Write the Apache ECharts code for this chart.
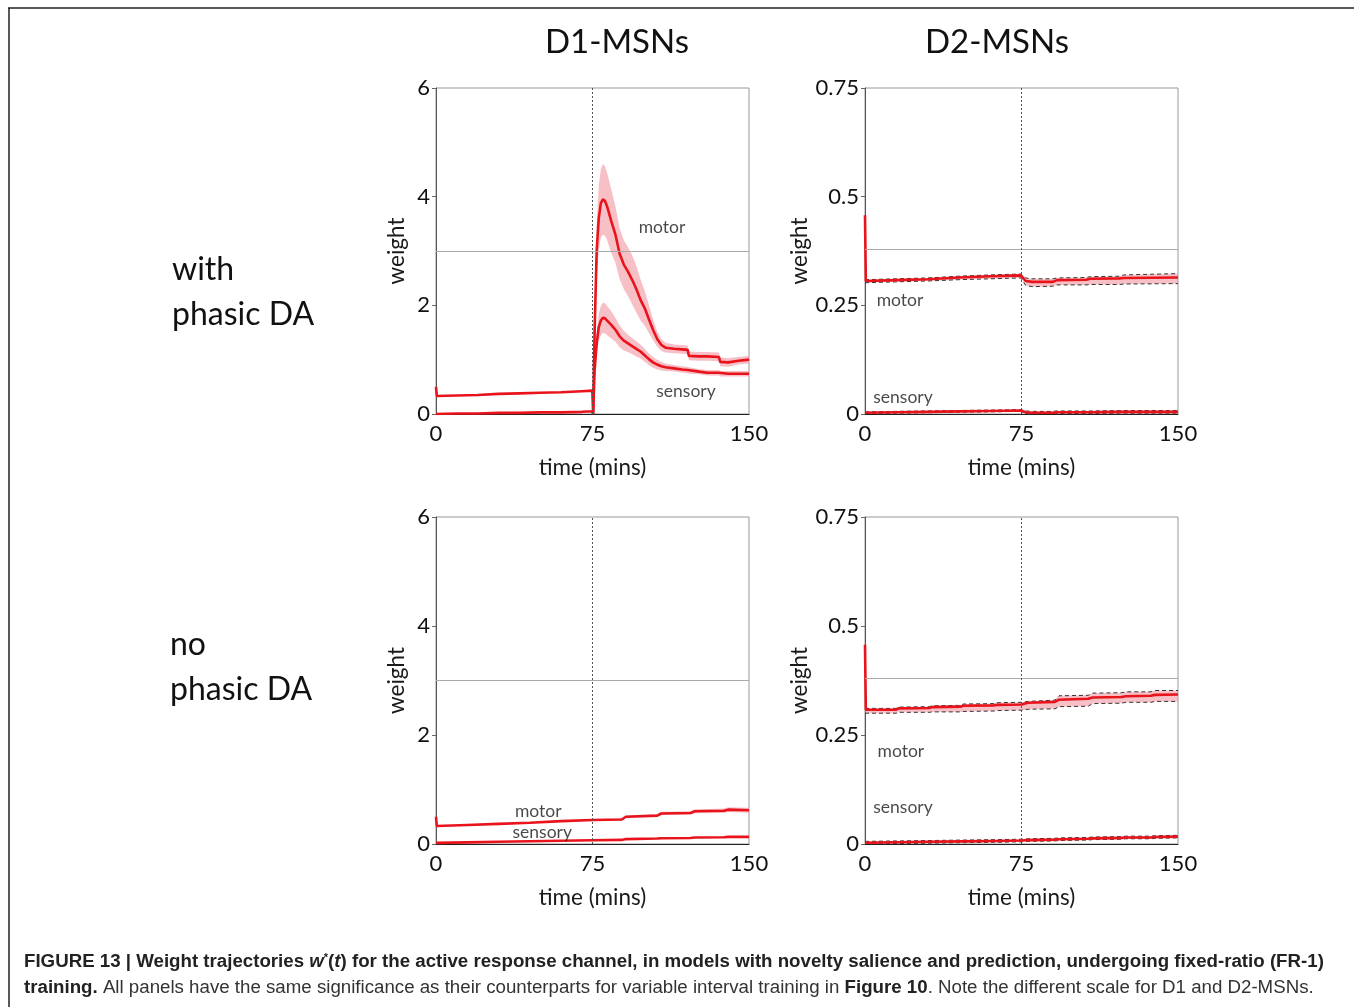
<!DOCTYPE html>
<html>
<head>
<meta charset="utf-8">
<script src="https://cdn.jsdelivr.net/npm/echarts@6/dist/echarts.min.js"></script>
<style>
html,body{margin:0;padding:0;background:#fff;}
#chart{width:1354px;height:1007px;}
</style>
</head>
<body>
<div id="chart"></div>
<script>
// ---------- DATA ----------
var columnTitles = ['D1-MSNs', 'D2-MSNs'];
var rowTitles = [['with', 'phasic DA'], ['no', 'phasic DA']];
var xTicks = [0, 75, 150];
var yTicksD1 = [0, 2, 4, 6];
var yTicksD2 = [0, 0.25, 0.5, 0.75];

// Top-left: D1, with phasic DA
var tTL = [0, 0.4, 10, 20, 30, 40, 50, 60, 70, 74.9, 75.3, 76, 77, 78, 79, 80, 81, 82, 84, 86, 88, 90, 92, 94, 96, 98, 100, 102, 104, 106, 108, 110, 114, 118, 120.6, 121.2, 126, 130, 135.6, 136.2, 140, 145, 150];
var motorTL = [0.50, 0.33, 0.34, 0.35, 0.37, 0.38, 0.39, 0.40, 0.42, 0.43, 0.02, 1.5, 3.0, 3.6, 3.88, 3.95, 3.92, 3.82, 3.55, 3.3, 2.95, 2.75, 2.62, 2.47, 2.3, 2.1, 1.95, 1.75, 1.55, 1.38, 1.27, 1.22, 1.20, 1.19, 1.18, 1.07, 1.06, 1.06, 1.05, 0.96, 0.95, 0.98, 1.0];
var motorTLsd = [0.01, 0.01, 0.01, 0.01, 0.01, 0.01, 0.01, 0.01, 0.01, 0.01, 0, 0.2, 0.5, 0.6, 0.63, 0.65, 0.64, 0.62, 0.58, 0.52, 0.47, 0.45, 0.45, 0.45, 0.43, 0.38, 0.32, 0.26, 0.19, 0.14, 0.11, 0.09, 0.08, 0.08, 0.08, 0.08, 0.08, 0.08, 0.08, 0.08, 0.08, 0.07, 0.07];
var sensTL = [0.0, 0.0, 0.01, 0.01, 0.02, 0.02, 0.03, 0.03, 0.04, 0.05, 0.0, 0.8, 1.3, 1.6, 1.72, 1.77, 1.76, 1.72, 1.64, 1.55, 1.43, 1.35, 1.30, 1.25, 1.20, 1.15, 1.08, 1.01, 0.95, 0.91, 0.88, 0.86, 0.84, 0.82, 0.81, 0.80, 0.78, 0.76, 0.76, 0.74, 0.74, 0.74, 0.74];
var sensTLsd = [0.01, 0.01, 0.01, 0.01, 0.01, 0.01, 0.01, 0.01, 0.01, 0.01, 0, 0.1, 0.2, 0.25, 0.27, 0.28, 0.28, 0.27, 0.25, 0.22, 0.2, 0.18, 0.16, 0.15, 0.14, 0.13, 0.12, 0.11, 0.1, 0.09, 0.08, 0.07, 0.06, 0.06, 0.06, 0.06, 0.05, 0.05, 0.05, 0.05, 0.05, 0.05, 0.05];

// Top-right: D2, with phasic DA
var tTR = [0, 0.4, 15, 30, 45, 60, 74.6, 75.4, 77, 80, 90, 92, 106, 108, 122, 124, 150];
var motorTR = [0.457, 0.306, 0.308, 0.310, 0.314, 0.317, 0.319, 0.318, 0.306, 0.304, 0.304, 0.308, 0.309, 0.311, 0.312, 0.313, 0.314];
var motorTRhi = [0.309, 0.309, 0.311, 0.313, 0.317, 0.320, 0.322, 0.321, 0.313, 0.311, 0.311, 0.313, 0.314, 0.316, 0.317, 0.320, 0.323];
var motorTRlo = [0.302, 0.302, 0.304, 0.306, 0.309, 0.311, 0.313, 0.312, 0.296, 0.293, 0.294, 0.297, 0.297, 0.298, 0.298, 0.299, 0.300];
var sensTR = [0.003, 0.003, 0.004, 0.005, 0.006, 0.007, 0.008, 0.008, 0.004, 0.003, 0.003, 0.004, 0.004, 0.004, 0.005, 0.005, 0.005];
var sensTRsd = [0.002, 0.002, 0.002, 0.002, 0.002, 0.002, 0.002, 0.002, 0.003, 0.003, 0.003, 0.003, 0.003, 0.003, 0.003, 0.003, 0.003];

// Bottom-left: D1, no phasic DA
var tBL = [0, 0.4, 15, 30, 45, 60, 75, 89, 91, 106, 108, 122, 124, 138, 140, 150];
var motorBL = [0.50, 0.33, 0.35, 0.37, 0.39, 0.42, 0.44, 0.45, 0.50, 0.52, 0.56, 0.57, 0.60, 0.61, 0.63, 0.62];
var motorBLsd = [0.01, 0.01, 0.01, 0.01, 0.01, 0.015, 0.015, 0.02, 0.02, 0.025, 0.03, 0.03, 0.035, 0.04, 0.045, 0.045];
var sensBL = [0.02, 0.02, 0.03, 0.04, 0.05, 0.06, 0.07, 0.075, 0.09, 0.10, 0.105, 0.11, 0.12, 0.125, 0.13, 0.13];
var sensBLsd = [0.01, 0.01, 0.01, 0.01, 0.01, 0.01, 0.01, 0.01, 0.01, 0.01, 0.01, 0.01, 0.01, 0.01, 0.01, 0.01];

// Bottom-right: D2, no phasic DA
var tBR = [0, 0.4, 15, 16, 31, 32, 46, 47, 62, 63, 75, 78, 91, 93, 107, 109, 123, 125, 137, 139, 150];
var motorBR = [0.457, 0.308, 0.308, 0.311, 0.312, 0.314, 0.315, 0.317, 0.318, 0.319, 0.320, 0.324, 0.326, 0.331, 0.333, 0.336, 0.337, 0.339, 0.340, 0.342, 0.343];
var motorBRhi = [0.311, 0.311, 0.311, 0.314, 0.315, 0.317, 0.318, 0.321, 0.322, 0.324, 0.325, 0.327, 0.330, 0.340, 0.341, 0.346, 0.347, 0.349, 0.349, 0.352, 0.352];
var motorBRlo = [0.300, 0.300, 0.300, 0.302, 0.302, 0.303, 0.303, 0.304, 0.305, 0.306, 0.307, 0.309, 0.310, 0.315, 0.316, 0.322, 0.323, 0.325, 0.325, 0.327, 0.327];
var sensBR = [0.003, 0.003, 0.004, 0.004, 0.005, 0.005, 0.006, 0.006, 0.007, 0.007, 0.008, 0.009, 0.010, 0.011, 0.012, 0.013, 0.014, 0.015, 0.015, 0.016, 0.017];
var sensBRsd = [0.003, 0.003, 0.003, 0.003, 0.003, 0.003, 0.003, 0.003, 0.003, 0.003, 0.003, 0.003, 0.003, 0.003, 0.003, 0.003, 0.003, 0.003, 0.003, 0.003, 0.003];

// ---------- BUILD ----------
var FONT = 'Lato, "Open Sans", sans-serif';
var CAPFONT = '"Liberation Sans", Arial, sans-serif';
var RED = '#e8131b';
var BAND = 'rgba(242,150,160,0.6)';

function add(a, b, s) { return a.map(function (v, i) { return Math.max(0, v + s * b[i]); }); }
function pairs(t, v) { return t.map(function (x, i) { return [x, v[i]]; }); }

var series = [];
function band(gi, t, lo, hi, dashed) {
  var rows = t.map(function (x, i) { return [x, lo[i], hi[i]]; });
  series.push({
    type: 'custom', xAxisIndex: gi, yAxisIndex: gi, silent: true, z: 2, clip: true,
    encode: { x: 0, y: [1, 2] },
    data: rows,
    renderItem: function (params, api) {
      if (params.dataIndex !== 0) return null;
      var pts = [];
      for (var i = 0; i < rows.length; i++) pts.push(api.coord([rows[i][0], rows[i][2]]));
      for (var j = rows.length - 1; j >= 0; j--) pts.push(api.coord([rows[j][0], rows[j][1]]));
      return { type: 'polygon', shape: { points: pts }, style: { fill: BAND, stroke: null } };
    }
  });
  if (dashed) {
    [lo, hi].forEach(function (arr) {
      series.push({
        type: 'line', xAxisIndex: gi, yAxisIndex: gi, symbol: 'none', silent: true,
        lineStyle: { color: '#333', width: 1, type: [4, 3] }, data: pairs(t, arr), z: 3
      });
    });
  }
}
function mean(gi, t, v) {
  series.push({
    type: 'line', xAxisIndex: gi, yAxisIndex: gi, symbol: 'none', silent: true,
    lineStyle: { color: RED, width: 2.6 }, data: pairs(t, v), z: 4
  });
}
function guides(gi, yMid) {
  series.push({
    type: 'line', xAxisIndex: gi, yAxisIndex: gi, symbol: 'none', data: [], silent: true,
    markLine: {
      silent: true, symbol: 'none', label: { show: false },
      data: [
        { yAxis: yMid, lineStyle: { color: '#aaa', width: 1, type: 'solid' } },
        { xAxis: 75, lineStyle: { color: '#555', width: 1, type: [2, 2] } }
      ]
    }, z: 1
  });
}
function notes(gi, items) {
  series.push({
    type: 'scatter', xAxisIndex: gi, yAxisIndex: gi, symbolSize: 1, silent: true,
    itemStyle: { color: 'rgba(0,0,0,0)' },
    label: { show: true, position: 'inside', formatter: function (p) { return p.data[2]; },
      fontFamily: FONT, fontSize: 17.5, color: '#1a1a1a' },
    data: items, z: 6
  });
}

// panel 0 TL
guides(0, 3);
band(0, tTL, add(motorTL, motorTLsd, -1), add(motorTL, motorTLsd, 1), false);
band(0, tTL, add(sensTL, sensTLsd, -1), add(sensTL, sensTLsd, 1), false);
mean(0, tTL, sensTL); mean(0, tTL, motorTL);
notes(0, [[108.3, 3.43, 'motor'], [119.8, 0.42, 'sensory']]);
// panel 1 TR
guides(1, 0.375);
band(1, tTR, motorTRlo, motorTRhi, true);
band(1, tTR, add(sensTR, sensTRsd, -1), add(sensTR, sensTRsd, 1), true);
mean(1, tTR, sensTR); mean(1, tTR, motorTR);
notes(1, [[16.8, 0.262, 'motor'], [18.2, 0.039, 'sensory']]);
// panel 2 BL
guides(2, 3);
band(2, tBL, add(motorBL, motorBLsd, -1), add(motorBL, motorBLsd, 1), false);
band(2, tBL, add(sensBL, sensBLsd, -1), add(sensBL, sensBLsd, 1), false);
mean(2, tBL, sensBL); mean(2, tBL, motorBL);
notes(2, [[49, 0.59, 'motor'], [50.9, 0.22, 'sensory']]);
// panel 3 BR
guides(3, 0.375);
band(3, tBR, motorBRlo, motorBRhi, true);
band(3, tBR, add(sensBR, sensBRsd, -1), add(sensBR, sensBRsd, 1), true);
mean(3, tBR, sensBR); mean(3, tBR, motorBR);
notes(3, [[17.2, 0.2135, 'motor'], [18.2, 0.085, 'sensory']]);

var grids = [
  { left: 436, top: 88, width: 313, height: 326 },
  { left: 865, top: 88, width: 313, height: 326 },
  { left: 436, top: 517, width: 313, height: 327 },
  { left: 865, top: 517, width: 313, height: 327 }
].map(function (g) { g.show = true; g.borderColor = '#999'; g.borderWidth = 1; g.backgroundColor = '#fff'; return g; });

var xAxes = grids.map(function (g, i) {
  return {
    type: 'value', gridIndex: i, min: xTicks[0], max: xTicks[xTicks.length - 1], interval: xTicks[1] - xTicks[0],
    name: 'time (mins)', nameLocation: 'middle', nameGap: 42,
    nameTextStyle: { fontFamily: FONT, fontSize: 22.5, color: '#1a1a1a' },
    axisLine: { show: true, onZero: false, lineStyle: { color: '#222', width: 1 } },
    axisTick: { show: false }, splitLine: { show: false },
    axisLabel: { fontFamily: FONT, fontSize: 22, color: '#111', margin: 9 }
  };
});
var yAxes = grids.map(function (g, i) {
  var d1 = (i % 2 === 0);
  var ticks = d1 ? yTicksD1 : yTicksD2;
  return {
    type: 'value', gridIndex: i, min: ticks[0], max: ticks[ticks.length - 1], interval: ticks[1] - ticks[0],
    name: 'weight', nameLocation: 'middle', nameRotate: 90, nameGap: d1 ? 28 : 54,
    nameTextStyle: { fontFamily: FONT, fontSize: 22.5, color: '#1a1a1a' },
    axisLine: { show: true, lineStyle: { color: '#555', width: 1 } },
    axisTick: { show: true, length: 4, lineStyle: { color: '#666' } }, splitLine: { show: false },
    axisLabel: { fontFamily: FONT, fontSize: 22, color: '#111', margin: 6,
      formatter: function (v) { return String(v); } }
  };
});

var graphics = [
  { type: 'line', shape: { x1: 8, y1: 8, x2: 1354, y2: 8 }, style: { stroke: '#222', lineWidth: 1.5 } },
  { type: 'line', shape: { x1: 9, y1: 8, x2: 9, y2: 1007 }, style: { stroke: '#222', lineWidth: 1.5 } },
  { type: 'text', style: { text: columnTitles[0], x: 617, y: 42, textAlign: 'center', textVerticalAlign: 'middle', fontFamily: FONT, fontSize: 33, fill: '#111' } },
  { type: 'text', style: { text: columnTitles[1], x: 997, y: 42, textAlign: 'center', textVerticalAlign: 'middle', fontFamily: FONT, fontSize: 33, fill: '#111' } },
  { type: 'text', style: { text: rowTitles[0][0], x: 172, y: 270, textVerticalAlign: 'middle', fontFamily: FONT, fontSize: 32, fill: '#111' } },
  { type: 'text', style: { text: rowTitles[0][1], x: 172, y: 315, textVerticalAlign: 'middle', fontFamily: FONT, fontSize: 32, fill: '#111' } },
  { type: 'text', style: { text: rowTitles[1][0], x: 170, y: 645, textVerticalAlign: 'middle', fontFamily: FONT, fontSize: 32, fill: '#111' } },
  { type: 'text', style: { text: rowTitles[1][1], x: 170, y: 690, textVerticalAlign: 'middle', fontFamily: FONT, fontSize: 32, fill: '#111' } },
  { type: 'text', style: {
      x: 24, y: 962, textVerticalAlign: 'middle',
      text: '{b|FIGURE 13 | Weight trajectories }{bi|w}{sup|*}{b|(}{bi|t}{b|) for the active response channel, in models with novelty salience and prediction, undergoing fixed-ratio (FR-1)}',
      rich: {
        b: { fontFamily: CAPFONT, fontWeight: 'bold', fontSize: 18.7, fill: '#222' },
        bi: { fontFamily: CAPFONT, fontWeight: 'bold', fontStyle: 'italic', fontSize: 18.7, fill: '#222' },
        sup: { fontFamily: CAPFONT, fontWeight: 'bold', fontSize: 11, fill: '#222', verticalAlign: 'top', padding: [0, 0, 8, 0] }
      }
  } },
  { type: 'text', style: {
      x: 24, y: 988, textVerticalAlign: 'middle',
      text: '{b|training.}{n| All panels have the same significance as their counterparts for variable interval training in }{b|Figure 10}{n|. Note the different scale for D1 and D2-MSNs.}',
      rich: {
        b: { fontFamily: CAPFONT, fontWeight: 'bold', fontSize: 18.7, fill: '#222' },
        n: { fontFamily: CAPFONT, fontSize: 18.7, fill: '#333' }
      }
  } }
];

var chart = echarts.init(document.getElementById('chart'), null, { renderer: 'canvas' });
chart.setOption({
  animation: false,
  backgroundColor: '#fff',
  grid: grids,
  xAxis: xAxes,
  yAxis: yAxes,
  series: series,
  graphic: graphics
});
</script>
</body>
</html>
